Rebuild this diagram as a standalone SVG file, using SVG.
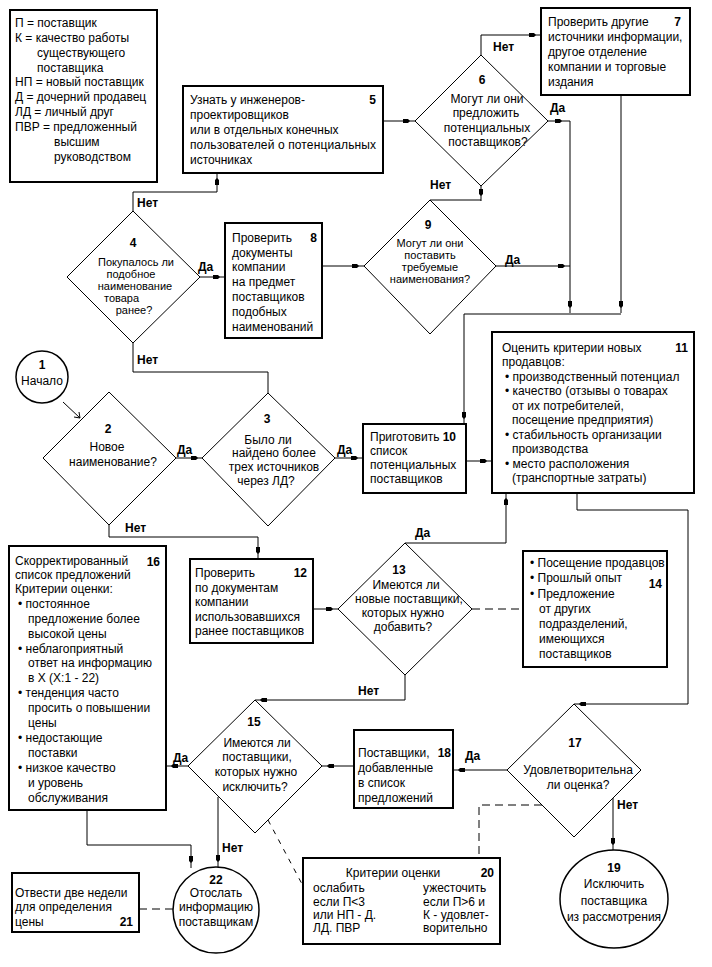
<svg xmlns="http://www.w3.org/2000/svg" width="712" height="967" viewBox="0 0 712 967">
<defs>
<style>
text{font-family:"Liberation Sans",Arial,sans-serif;font-size:12px;fill:#000}
.b{font-weight:bold}
.m{text-anchor:middle}
.e{text-anchor:end}
.s{font-size:11px}
.box{fill:#fff;stroke:#000;stroke-width:2}
.dia{fill:#fff;stroke:#000;stroke-width:1}
.cir{fill:#fff;stroke:#000;stroke-width:1.5}
.ln{fill:none;stroke:#000;stroke-width:1}
.ar{fill:none;stroke:#000;stroke-width:1;marker-end:url(#a)}
.da{fill:none;stroke:#000;stroke-width:1;stroke-dasharray:8,5}
.dt{fill:none;stroke:#000;stroke-width:1;stroke-dasharray:5,6}
</style>
<marker id="a" viewBox="0 -3 13 6" refX="12" refY="0" markerWidth="13" markerHeight="6" markerUnits="userSpaceOnUse" orient="auto" overflow="visible">
<path d="M0,-2 L5,-2 L7,0 L5,2 L0,2 Z" fill="#000"/>
</marker>
</defs>
<rect width="712" height="967" fill="#fff"/>

<g id="connectors">
<path class="ln" d="M63,402 L80,418"/>
<path class="ln" d="M74,417 L80,418 L79,412"/>
<path class="ar" d="M176,458 H203"/>
<path class="ar" d="M335,458 H363"/>
<path class="ar" d="M109,525 V537 H258 V559"/>
<path class="ln" d="M133,343 V372 H268 V393"/>
<path class="ar" d="M133,211 V192 H217 V173"/>
<path class="ar" d="M200,277 H225"/>
<path class="ar" d="M383,121 H415"/>
<path class="ar" d="M481,55 V35 H541"/>
<path class="ar" d="M548,121 H567"/>
<path class="ar" d="M567,121 H570 V313"/>
<path class="ar" d="M481,186 V201"/>
<path class="ln" d="M481,200 H430"/>
<path class="ar" d="M322,266 H364"/>
<path class="ar" d="M496,266 H570"/>
<path class="ar" d="M621,95 V313"/>
<path class="ar" d="M621,314 H464 V424"/>
<path class="ar" d="M466,461 H492"/>
<path class="ar" d="M405,543 H506 V493"/>
<path class="ar" d="M577,493 V510 H688 V704 H574"/>
<path class="ar" d="M313,609 H338"/>
<path class="da" d="M472,609 H523"/>
<path class="ar" d="M405,675 V700 H255"/>
<path class="ar" d="M354,766 H322"/>
<path class="ar" d="M507,770 H453"/>
<path class="ar" d="M188,766 H166"/>
<path class="ar" d="M87,810 V845 H191 V868"/>
<path class="ar" d="M218,797 V867"/>
<path class="ar" d="M613,798 V850"/>
<path class="da" d="M542,805 H479 V858"/>
<path class="dt" d="M268,820 L302,884"/>
<path class="da" d="M139,909 H173"/>
</g>

<g id="legend">
<rect class="box" x="10" y="10" width="147" height="172"/>
<text x="15" y="27">П = поставщик</text>
<text x="15" y="42">К = качество работы</text>
<text x="37" y="57">существующего</text>
<text x="37" y="72">поставщика</text>
<text x="15" y="86">НП = новый поставщик</text>
<text x="15" y="101">Д = дочерний продавец</text>
<text x="15" y="116">ЛД = личный друг</text>
<text x="15" y="131">ПВР = предложенный</text>
<text x="54" y="146">высшим</text>
<text x="54" y="161">руководством</text>
</g>

<g id="n1">
<circle class="cir" cx="42" cy="377" r="26"/>
<text class="b m" x="42" y="369">1</text>
<text class="m" x="42" y="385">Начало</text>
</g>

<g id="n2">
<polygon class="dia" points="109,392 176,458 109,525 43,458"/>
<text class="b m" x="108" y="433">2</text>
<text class="m" x="107" y="451">Новое</text>
<text class="m" x="113" y="466">наименование?</text>
</g>

<g id="n3">
<polygon class="dia" points="268,393 335,458 268,526 202,458"/>
<text class="b m" x="267" y="423">3</text>
<text class="m" x="268" y="444">Было ли</text>
<text class="m" x="274" y="457">найдено более</text>
<text class="m" x="274" y="471">трех источников</text>
<text class="m" x="266" y="485">через ЛД?</text>
</g>

<g id="n4">
<polygon class="dia" points="133,211 200,277 133,343 67,277"/>
<text class="b m" x="133" y="247">4</text>
<text class="m s" x="136" y="266">Покупалось ли</text>
<text class="m s" x="131" y="278">подобное</text>
<text class="m s" x="135" y="290">наименование</text>
<text class="s" x="104" y="302">товара</text>
<text class="m s" x="134" y="314">ранее?</text>
</g>

<g id="n5">
<rect class="box" x="183" y="86" width="200" height="87"/>
<text x="190" y="104">Узнать у инженеров-</text>
<text x="190" y="119">проектировщиков</text>
<text x="190" y="134">или в отдельных конечных</text>
<text x="190" y="149" textLength="186" lengthAdjust="spacing">пользователей о потенциальных</text>
<text x="190" y="164">источниках</text>
<text class="b e" x="376" y="104">5</text>
</g>

<g id="n6">
<polygon class="dia" points="481,55 548,121 481,186 415,121"/>
<text class="b m" x="482" y="84">6</text>
<text class="m" x="487" y="103">Могут ли они</text>
<text class="m" x="486" y="117">предложить</text>
<text class="m" x="487" y="132">потенциальных</text>
<text class="m" x="488" y="146">поставщиков?</text>
</g>

<g id="n7">
<rect class="box" x="541" y="8" width="149" height="87"/>
<text x="548" y="26">Проверить другие</text>
<text x="548" y="41">источники информации,</text>
<text x="548" y="56">другое отделение</text>
<text x="548" y="71">компании и торговые</text>
<text x="548" y="86">издания</text>
<text class="b e" x="681" y="26">7</text>
</g>

<g id="n8">
<rect class="box" x="225" y="223" width="97" height="115"/>
<text x="232" y="242">Проверить</text>
<text x="232" y="257">документы</text>
<text x="232" y="271">компании</text>
<text x="232" y="286">на предмет</text>
<text x="232" y="301">поставщиков</text>
<text x="232" y="316">подобных</text>
<text x="232" y="331">наименований</text>
<text class="b e" x="317" y="242">8</text>
</g>

<g id="n9">
<polygon class="dia" points="430,200 496,266 430,334 364,266"/>
<text class="b m" x="428" y="229">9</text>
<text class="m s" x="430" y="247">Могут ли они</text>
<text class="m s" x="430" y="259">поставить</text>
<text class="m s" x="430" y="271">требуемые</text>
<text class="m s" x="430" y="283">наименования?</text>
</g>

<g id="n10">
<rect class="box" x="363" y="424" width="103" height="69"/>
<text x="370" y="441">Приготовить</text>
<text x="370" y="455">список</text>
<text x="370" y="469">потенциальных</text>
<text x="370" y="483">поставщиков</text>
<text class="b e" x="456" y="441">10</text>
</g>

<g id="n11">
<rect class="box" x="492" y="332" width="202" height="161"/>
<text x="502" y="352">Оценить критерии новых</text>
<text x="502" y="366">продавцов:</text>
<text x="505" y="381">• производственный потенциал</text>
<text x="505" y="395">• качество (отзывы о товарах</text>
<text x="512" y="410">от их потребителей,</text>
<text x="512" y="424">посещение предприятия)</text>
<text x="505" y="439">• стабильность организации</text>
<text x="512" y="453">производства</text>
<text x="505" y="468">• место расположения</text>
<text x="512" y="482">(транспортные затраты)</text>
<text class="b e" x="688" y="352">11</text>
</g>

<g id="n12">
<rect class="box" x="190" y="559" width="123" height="84"/>
<text x="195" y="577">Проверить</text>
<text x="195" y="592">по документам</text>
<text x="195" y="606">компании</text>
<text x="195" y="621">использовавшихся</text>
<text x="195" y="635">ранее поставщиков</text>
<text class="b e" x="307" y="577">12</text>
</g>

<g id="n13">
<polygon class="dia" points="405,543 472,609 405,675 338,609"/>
<text class="b m" x="399" y="574">13</text>
<text class="m" x="406" y="589">Имеются ли</text>
<text class="m" x="409" y="603">новые поставщики,</text>
<text class="m" x="403" y="617">которых нужно</text>
<text class="m" x="403" y="631">добавить?</text>
</g>

<g id="n14">
<rect class="box" x="523" y="551" width="144" height="116"/>
<text x="530" y="567">• Посещение продавцов</text>
<text x="530" y="582">• Прошлый опыт</text>
<text x="530" y="598">• Предложение</text>
<text x="539" y="613">от других</text>
<text x="539" y="628">подразделений,</text>
<text x="539" y="643">имеющихся</text>
<text x="539" y="658">поставщиков</text>
<text class="b e" x="662" y="588">14</text>
</g>

<g id="n15">
<polygon class="dia" points="255,700 322,766 255,833 188,766"/>
<text class="b m" x="254" y="726">15</text>
<text class="m" x="257" y="747">Имеются ли</text>
<text class="m" x="257" y="761">поставщики,</text>
<text class="m" x="256" y="776">которых нужно</text>
<text class="m" x="255" y="791">исключить?</text>
</g>

<g id="n16">
<rect class="box" x="9" y="546" width="157" height="264"/>
<text x="15" y="565">Скорректированный</text>
<text x="15" y="579">список предложений</text>
<text x="15" y="593">Критерии оценки:</text>
<text x="18" y="608">• постоянное</text>
<text x="28" y="623">предложение более</text>
<text x="28" y="638">высокой цены</text>
<text x="18" y="653">• неблагоприятный</text>
<text x="28" y="667">ответ на информацию</text>
<text x="28" y="682">в Х (Х:1 - 22)</text>
<text x="18" y="697">• тенденция часто</text>
<text x="28" y="712">просить о повышении</text>
<text x="28" y="727">цены</text>
<text x="18" y="742">• недостающие</text>
<text x="28" y="757">поставки</text>
<text x="18" y="772">• низкое качество</text>
<text x="28" y="787">и уровень</text>
<text x="28" y="802">обслуживания</text>
<text class="b e" x="160" y="566">16</text>
</g>

<g id="n17">
<polygon class="dia" points="574,704 641,770 574,837 507,770"/>
<text class="b m" x="575" y="747">17</text>
<text class="m" x="578" y="774">Удовлетворительна</text>
<text class="m" x="578" y="789">ли оценка?</text>
</g>

<g id="n18">
<rect class="box" x="354" y="730" width="99" height="78"/>
<text x="358" y="757">Поставщики,</text>
<text x="358" y="772">добавленные</text>
<text x="358" y="787">в список</text>
<text x="358" y="802">предложений</text>
<text class="b e" x="451" y="757">18</text>
</g>

<g id="n19">
<ellipse class="cir" cx="614" cy="899" rx="54" ry="49"/>
<text class="b m" x="614" y="872">19</text>
<text class="m" x="614" y="888">Исключить</text>
<text class="m" x="614" y="905">поставщика</text>
<text class="m" x="614" y="921">из рассмотрения</text>
</g>

<g id="n20">
<rect class="box" x="303" y="858" width="197" height="86"/>
<text class="m" x="393" y="877">Критерии оценки</text>
<text class="b e" x="494" y="877">20</text>
<text x="313" y="892">ослабить</text>
<text x="313" y="906">если П&lt;3</text>
<text x="313" y="919">или НП - Д.</text>
<text x="313" y="932">ЛД. ПВР</text>
<text x="423" y="892">ужесточить</text>
<text x="423" y="906">если П&gt;6 и</text>
<text x="423" y="919">К - удовлет-</text>
<text x="423" y="932">ворительно</text>
</g>

<g id="n21">
<rect class="box" x="12" y="873" width="127" height="59"/>
<text x="15" y="897">Отвести две недели</text>
<text x="15" y="911">для определения</text>
<text x="15" y="926">цены</text>
<text class="b e" x="133" y="926">21</text>
</g>

<g id="n22">
<circle class="cir" cx="216" cy="910" r="43"/>
<text class="b m" x="216" y="884">22</text>
<text class="m" x="216" y="897">Отослать</text>
<text class="m" x="216" y="911">информацию</text>
<text class="m" x="216" y="926">поставщикам</text>
</g>

<g id="labels">
<text class="b" x="137" y="207">Нет</text>
<text class="b" x="137" y="364">Нет</text>
<text class="b" x="198" y="271">Да</text>
<text class="b" x="493" y="51">Нет</text>
<text class="b" x="550" y="112">Да</text>
<text class="b" x="430" y="189">Нет</text>
<text class="b" x="505" y="264">Да</text>
<text class="b" x="177" y="454">Да</text>
<text class="b" x="337" y="454">Да</text>
<text class="b" x="125" y="532">Нет</text>
<text class="b" x="415" y="537">Да</text>
<text class="b" x="358" y="695">Нет</text>
<text class="b" x="173" y="762">Да</text>
<text class="b" x="222" y="852">Нет</text>
<text class="b" x="465" y="760">Да</text>
<text class="b" x="617" y="809">Нет</text>
</g>
</svg>
